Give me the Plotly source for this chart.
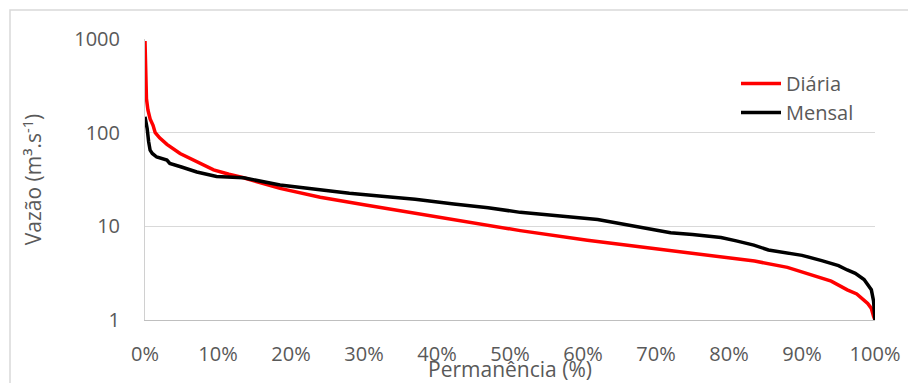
import plotly.graph_objects as go

# Flow-duration curves: exceedance percentage vs. discharge
diaria_perm = [0, 0.1, 0.2, 0.4, 0.7, 1.1, 1.4, 2.0, 3.0, 4.8, 7.0, 9.4, 11.5, 13.5,
               18.5, 24.0, 30.0, 33.2, 42.3, 51.4, 60.6, 69.7, 78.9, 83.5, 88.0,
               91.7, 94.0, 96.2, 97.5, 99.0, 99.5, 99.8, 100]
diaria_vazao = [950, 400, 230, 175, 140, 120, 100, 88, 75, 60, 49, 40, 36, 33,
                25.4, 20.4, 17.0, 15.5, 11.7, 9.0, 7.1, 5.8, 4.67, 4.26, 3.65,
                2.95, 2.6, 2.1, 1.9, 1.5, 1.33, 1.1, 1.0]

mensal_perm = [0, 0.3, 0.5, 0.7, 1.0, 1.6, 3.0, 3.4, 5.0, 7.1, 9.8, 13.5, 18.5, 24.0,
               28.0, 33.2, 37.0, 42.3, 47.0, 51.4, 55.0, 58.7, 62.0, 65.2, 68.0,
               72.0, 75.0, 78.9, 81.0, 83.4, 85.4, 88.1, 90.0, 92.7, 95.0, 96.2,
               97.3, 98.5, 99.1, 99.5, 99.8, 100]
mensal_vazao = [148, 110, 80, 65, 60, 55, 51, 47, 43, 38, 34, 33, 27.6, 24.4,
                22.5, 20.7, 19.5, 17.3, 15.8, 14.1, 13.4, 12.5, 11.8, 10.6, 9.8,
                8.55, 8.2, 7.6, 7.0, 6.3, 5.6, 5.15, 4.9, 4.3, 3.8, 3.42,
                3.15, 2.7, 2.3, 2.1, 1.6, 1.0]

x_ticks = list(range(0, 101, 10))
x_labels = [f"{v}%" for v in x_ticks]
y_ticks = [1, 10, 100, 1000]
y_labels = ["1", "10", "100", "1000"]

FONT = "Open Sans"
GREY = "#595959"

fig = go.Figure()
fig.add_trace(go.Scatter(x=diaria_perm, y=diaria_vazao, mode="lines", name="Diária",
                         line=dict(color="#ff0000", width=3.5)))
fig.add_trace(go.Scatter(x=mensal_perm, y=mensal_vazao, mode="lines", name="Mensal",
                         line=dict(color="#000000", width=3.5)))

L, R, T, B = 145, 33, 39, 63
W, H = 908, 383
pw, ph = W - L - R, H - T - B

def px_x(p):
    return (p - L) / pw

def px_y(p):
    return (H - B - p) / ph

# outer chart frame
fig.add_shape(type="rect", xref="paper", yref="paper",
              x0=px_x(10), x1=px_x(930), y0=px_y(400), y1=px_y(10),
              line=dict(color="#d9d9d9", width=1.5), fillcolor="rgba(0,0,0,0)",
              layer="below")

fig.update_layout(
    width=W, height=H,
    margin=dict(l=L, r=R, t=T, b=B, autoexpand=False),
    paper_bgcolor="white", plot_bgcolor="white",
    font=dict(family=FONT, color=GREY, size=20),
    showlegend=True,
    legend=dict(x=px_x(736), y=px_y(64), xanchor="left", yanchor="top",
                bgcolor="rgba(0,0,0,0)", font=dict(size=20, color=GREY),
                itemwidth=40, tracegroupgap=0),
    xaxis=dict(range=[0, 100], tickvals=x_ticks, ticktext=x_labels,
               showgrid=False, zeroline=False, automargin=False,
               showline=True, linecolor="#bfbfbf", linewidth=1,
               ticks="outside", ticklen=16, tickcolor="rgba(0,0,0,0)",
               tickfont=dict(size=20, color=GREY),
               title=dict(text="Permanência (%)", font=dict(size=21, color=GREY),
                          standoff=0),
               fixedrange=True),
    yaxis=dict(type="log", range=[0, 3], tickvals=y_ticks, ticktext=y_labels,
               showgrid=True, gridcolor="#d9d9d9", gridwidth=1, automargin=False,
               zeroline=False, showline=True, linecolor="#d0d0d0", linewidth=1,
               ticks="outside", ticklen=20, tickcolor="rgba(0,0,0,0)",
               tickfont=dict(size=20, color=GREY),
               title=dict(text="Vazão (m³.s<sup>-1</sup>)", font=dict(size=21, color=GREY),
                          standoff=26),
               fixedrange=True),
)

fig.write_html("out.html")
